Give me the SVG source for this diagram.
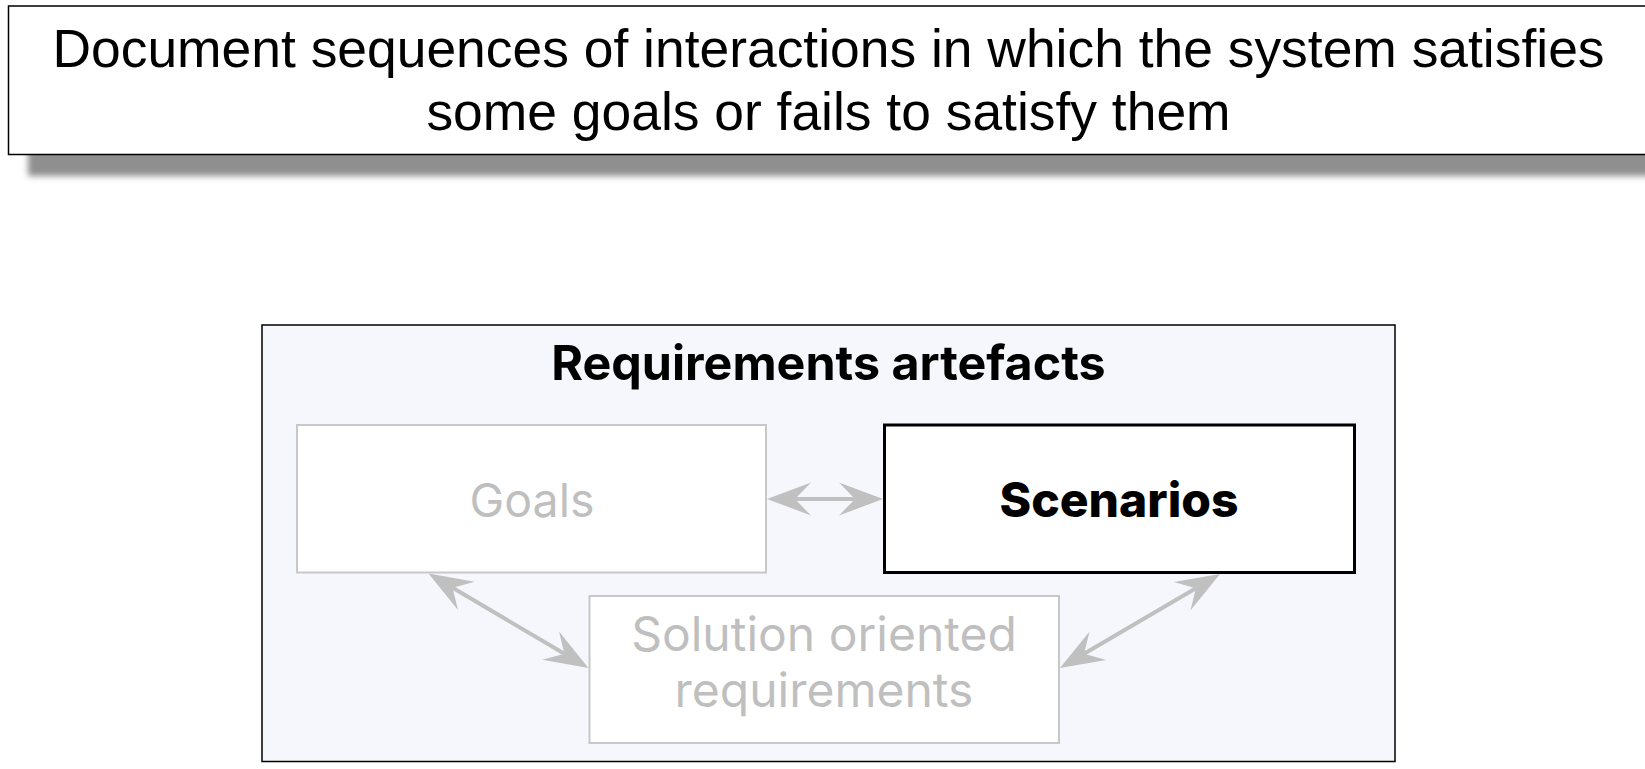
<svg xmlns="http://www.w3.org/2000/svg" width="1645" height="769" viewBox="0 0 1645 769">
<defs>
<style>
.note{font-family:"Liberation Sans",Arial,sans-serif;font-size:53.4px;fill:#000;text-anchor:middle}
.title{font-family:Inter,"Noto Sans",sans-serif;font-weight:700;font-size:48.4px;fill:#000;text-anchor:middle}
.dim{font-family:Inter,"Noto Sans",sans-serif;font-size:46.5px;fill:#bfbfbf;text-anchor:middle}
.dim2{font-family:Inter,"Noto Sans",sans-serif;font-size:48px;fill:#bfbfbf;text-anchor:middle}
.hi{font-family:Inter,"Noto Sans",sans-serif;font-weight:800;font-size:48px;fill:#000;text-anchor:middle}
.dimbox{fill:#fff;stroke:#c8c8c8;stroke-width:2}
.conn{stroke:#c0c0c0;stroke-width:4;fill:none;marker-start:url(#ah);marker-end:url(#ah)}
</style>
<filter id="sh" x="-5%" y="-30%" width="110%" height="160%">
<feGaussianBlur stdDeviation="3"/>
</filter>
<marker id="ah" viewBox="-2 -18 48 36" refX="16" refY="0" markerWidth="48" markerHeight="36" markerUnits="userSpaceOnUse" orient="auto-start-reverse">
<path d="M44,0 L0,-16.5 L16,0 L0,16.5 Z" fill="#c0c0c0"/>
</marker>
</defs>
<rect width="1645" height="769" fill="#fff"/>
<g id="note">
<rect x="28" y="28" width="1640" height="148" fill="#8f8f8f" filter="url(#sh)"/>
<rect x="8.5" y="6" width="1660" height="148.5" fill="#fff" stroke="#000" stroke-width="1.5"/>
<text class="note" x="828.5" y="67">Document sequences of interactions in which the system satisfies</text>
<text class="note" x="828.5" y="130">some goals or fails to satisfy them</text>
</g>
<g id="container">
<rect x="262" y="325" width="1133" height="436.5" fill="#f6f7fc" stroke="#000" stroke-width="1.5"/>
<text class="title" x="828.5" y="380">Requirements artefacts</text>
</g>
<g id="goals">
<rect class="dimbox" x="297" y="425" width="469" height="147.5"/>
<text class="dim" x="532" y="517">Goals</text>
</g>
<g id="scenarios">
<rect x="884.5" y="425" width="470" height="147.5" fill="#fff" stroke="#000" stroke-width="3"/>
<text class="hi" x="1119" y="517">Scenarios</text>
</g>
<g id="solution">
<rect class="dimbox" x="589.5" y="596" width="469.5" height="147"/>
<text class="dim2" x="824" y="651">Solution oriented</text>
<text class="dim2" x="824" y="707">requirements</text>
</g>
<g id="connectors">
<path class="conn" d="M795,499 L855,499"/>
<path class="conn" d="M452.6,587.7 L564.4,653.8"/>
<path class="conn" d="M1195.9,588.2 L1084.1,653.8"/>
</g>
</svg>
